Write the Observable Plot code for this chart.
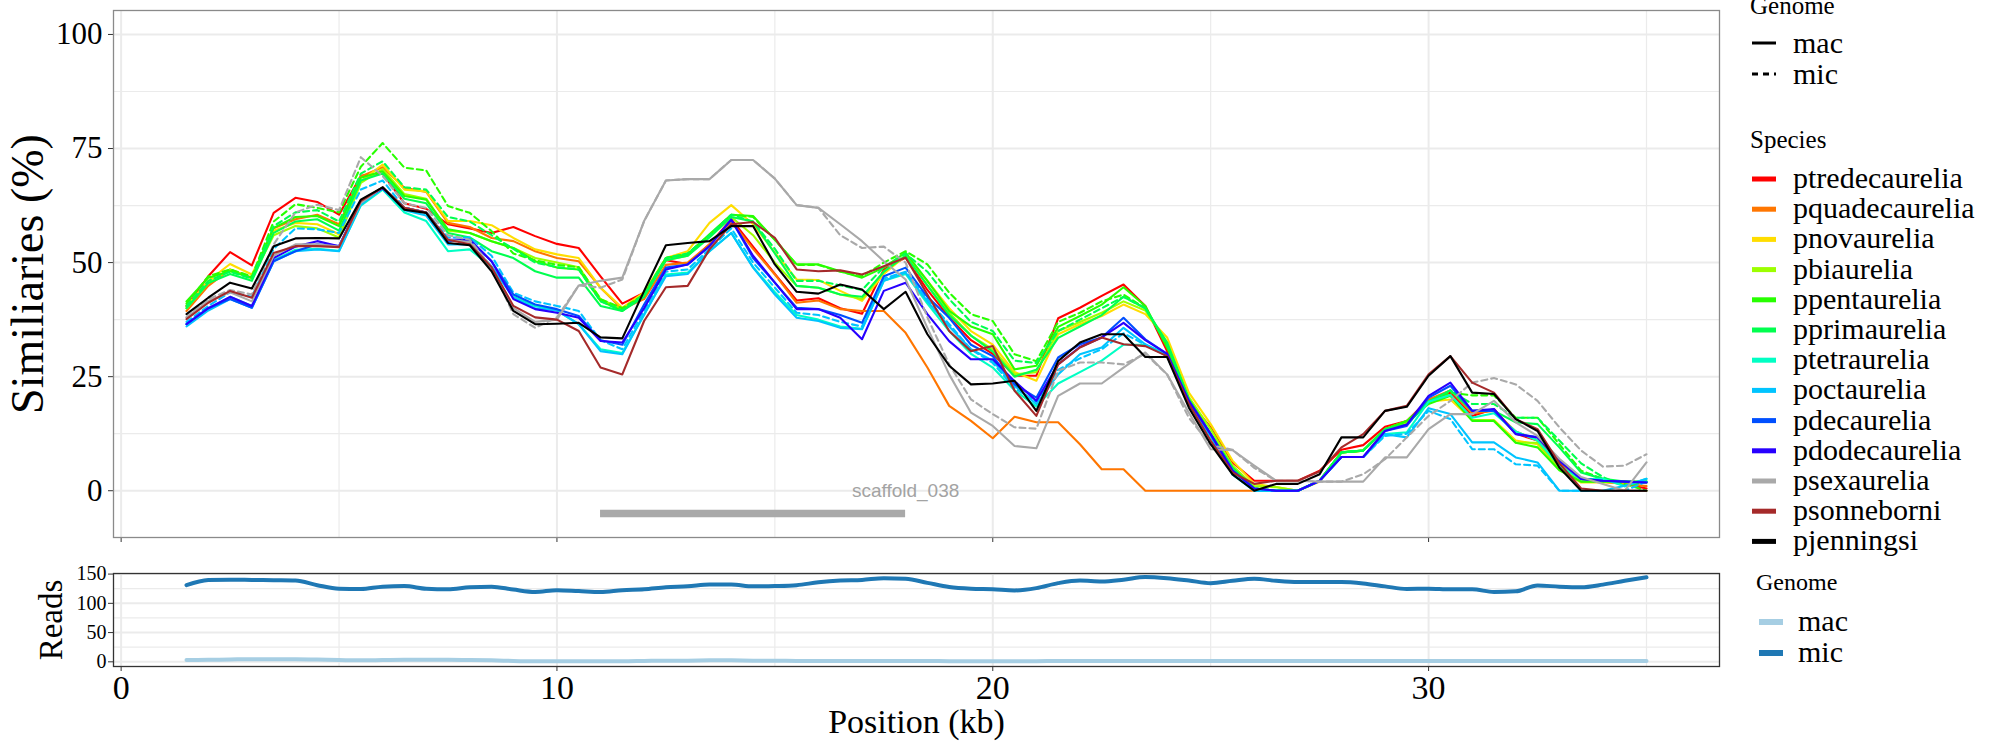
<!DOCTYPE html>
<html>
<head>
<meta charset="utf-8">
<script src="https://cdn.jsdelivr.net/npm/d3@7"></script>
<script src="https://cdn.jsdelivr.net/npm/@observablehq/plot@0.6"></script>
<style>
  html, body { margin: 0; padding: 0; background: #ffffff; }
  #wrap { position: relative; width: 2000px; height: 750px; overflow: hidden; font-family: "Liberation Serif", "DejaVu Serif", serif; }
  #main, #reads, #legend { position: absolute; left: 0; }
  #main { top: 0; }
  #reads { top: 560px; }
  #legend { top: 0; }
</style>
</head>
<body>
<div id="wrap">
  <div id="main"></div>
  <div id="reads"></div>
  <svg id="legend" width="2000" height="750"></svg>
</div>
<script>
// ---------- DATA ----------
const positions = [1.5,2,2.5,3,3.5,4,4.5,5,5.5,6,
  6.5,7,7.5,8,8.5,9,9.5,10,10.5,11,
  11.5,12,12.5,13,13.5,14,14.5,15,15.5,16,
  16.5,17,17.5,18,18.5,19,19.5,20,20.5,21,
  21.5,22,22.5,23,23.5,24,24.5,25,25.5,26,
  26.5,27,27.5,28,28.5,29,29.5,30,30.5,31,
  31.5,32,32.5,33,33.5,34,34.5,35];

const species = ["ptredecaurelia","pquadecaurelia","pnovaurelia","pbiaurelia","ppentaurelia","pprimaurelia","ptetraurelia","poctaurelia","pdecaurelia","pdodecaurelia","psexaurelia","psonneborni","pjenningsi"];
const speciesColors = ["#FF0000","#FF7600","#FFDD00","#9DFF00","#27FF00","#00FF4F","#00FFC4","#00C4FF","#004FFF","#2700FF","#A9A9A9","#A52A2A","#000000"];
const genomes = ["mac","mic"];
const readsColors = ["#A6CEE3","#1F78B4"];

const ptredecaurelia_mac = [40.5,47,52.3,49.4,60.9,64.2,63.3,60.5,69,69.5,
 63,61.8,58.4,57.5,56.5,57.8,55.8,54.1,53.2,47,
 41,43.4,50.5,49.7,54,59.5,53.5,47.5,41.7,42.2,
 40,38.8,48.5,51.1,44,38,33,30,25.2,25.2,
 37.8,40.1,42.7,45.2,40.5,30.6,19.7,13.9,6.2,2.2,
 2.2,2.2,4.4,9,10,14,15.3,20,21.5,16.4,
 17.9,12.5,11,6,2.5,2,1.5,0.5];
const pquadecaurelia_mac = [39.4,44.9,48.5,46.7,57.5,59.5,60.5,58.4,68.9,70.9,
 66.4,65.5,58.7,57.8,55.4,54.7,52.5,51,50.3,44.5,
 39.8,42,49.5,50,54,59,53,47.4,41.2,41.7,
 39.8,39.4,39.4,34.6,27,18.6,15.3,11.5,16.2,15,
 15,10.2,4.7,4.7,0,0,0,0,0,0,
 0,0,2,8.4,8.8,13.5,15,20,22,17,
 17.5,13,11,6,2.5,2,1.5,1];
const pnovaurelia_mac = [40.5,46,49.7,47.4,57,58.7,58.4,56.2,67.8,71.5,
 66,65.6,59.1,59.1,58.2,55.4,52.9,51.8,51,44.5,
 40.1,43.5,51,52.5,58.7,62.6,58.4,52.2,46.3,46.2,
 43.8,41.6,47.5,51.5,46,40,35,32,26,24.1,
 34.3,36.5,38.3,40.8,38.7,33.6,21.5,14.6,6.6,1.5,
 0.8,0,2.2,8.4,8.8,13.5,15.3,19.5,20,15.5,
 15.5,11,10.2,4.7,1.8,1.8,1.8,1.8];
const pbiaurelia_mac = [40,45.5,48.5,46.5,56,58,57.5,55.5,67.5,70.5,
 65,64,57,56.5,54.7,53.2,51,50,49,42,
 39.8,43,50.5,51.5,56,60,56,50,44.9,44.5,
 43,42,48,51.5,45,39,34,31,25.5,26,
 35,37,39,41.5,39.5,32.5,20.5,13.5,5.5,1,
 0.8,0,2.2,8.4,8.8,13.5,15,19.5,21,15.5,
 15.3,10.5,10.5,5,2,2,2,2];
const ppentaurelia_mac = [41.5,46.7,48.1,46.7,57.6,60,60.2,58,68.6,70,
 64.6,63.8,57.3,56.5,54.7,53.2,50.3,48.9,48.5,41.6,
 39.4,43,51,51.8,56.2,60.5,60.2,55,49.6,49.6,
 48.1,46.7,48.9,52.2,46,39.4,36,34.3,26.6,27.4,
 35.9,38.3,40.8,44.6,40.5,31.4,20,12.4,5,0.5,
 0,0,2.2,8.4,8.8,13.5,15.3,19,20.8,15.3,
 15.3,10.5,9.5,4.5,2,2,2,1.8];
const pprimaurelia_mac = [40,45.5,47.5,46,56.5,59,59.5,57,68,69.5,
 64,63,56.5,55.5,52.5,51,48.1,46.7,46.7,40.5,
 39.4,42.5,50.5,51.5,55.5,60,59,52,44.9,44.5,
 43,42.5,48,51.5,45,38.5,34,30.5,25,26.5,
 33.5,36,38.5,42.5,40,32.5,20,12.4,5,0.5,
 0,0,2.2,8.4,8.8,13.5,14.5,19.5,22,17.5,
 17.5,15,14.6,9.5,4,2.6,2,2];
const ptetraurelia_mac = [36.5,39.8,42.5,40.5,50.5,52.8,53,52.6,62.5,66,
 61,59.1,52.5,52.9,49,42.5,40.5,39.5,36.5,31,
 30.2,38.5,47.4,47.8,52.5,56.5,49,43.5,38.5,37.5,
 36,35.5,46,47.5,41,35,30,27,22,18.5,
 23.5,26,28.5,32,32,30,19,12,3.6,0,
 0,0,2.2,7.4,7.4,12.4,12.8,19.5,21,16,
 17,13,11,5.5,2.5,2.6,1,2.6];
const poctaurelia_mac = [36,39.5,42,40.1,50.3,52.5,52.9,52.5,62.7,66.3,
 61.5,60.3,54,54,49.2,42.3,40,39.5,36.5,30.6,
 29.9,38.7,47,47.5,52.5,56.5,48.9,43,37.9,37.2,
 35.7,35.4,46,47.8,41.5,36,31,28.5,23,19,
 25.5,29.9,31.4,35.7,32.1,29.5,19,12,3.6,0,
 0,0,2.2,7.4,7.4,12.4,11.7,18.1,16.8,10.6,
 10.6,7.3,6.2,0,0,0,1.1,2.6];
const pdecaurelia_mac = [36.5,40,42,40.1,50.3,52.5,54,53.6,63.5,66.3,
 62,61,54.7,55,50.3,43,40.8,39.8,38.3,33,
 32,40.8,48.9,49.6,53.6,59.4,51,45.6,40.1,39.8,
 38.5,36.8,47,48.9,42.5,37.9,32,29.5,23.3,20.4,
 29.2,32.1,33.6,37.9,33.2,30,19.7,12.4,4.4,0.5,
 0,0,2.2,7.4,7.4,13.1,14.2,20.4,23,17.5,
 17.5,12.5,11.7,6.6,2.6,2.2,2,1.8];
const pdodecaurelia_mac = [36.5,40,42.5,40.5,51,53.5,54.7,53.6,63.5,66.3,
 62,61,55,55,50.3,42,39.8,39,37.9,32.8,
 32.5,40,48.5,49.6,53.6,59.4,51.5,45.6,39.8,39.8,
 37.9,33.2,43.8,45.6,38.7,32.8,28.8,28.8,24,19.7,
 27.7,31.5,33.6,36.8,33,30,19.7,12.4,4.4,0.5,
 0,0,2.2,7.4,7.4,13.1,14.5,20.8,23.7,17.5,
 17.9,12.4,11.7,6.6,2.6,2.2,2,1.8];
const psexaurelia_mac = [38,41.6,43.5,41.5,51.5,54,54,53.5,63.1,66.5,
 62,61,55,54.5,49,40,37,37.5,45,46,
 46.7,59.1,68,68.3,68.3,72.5,72.5,68.4,62.6,62,
 58.4,54.7,50.3,46.3,35.7,25.5,17.1,14.2,9.8,9.3,
 20.8,23.5,23.5,27,30.3,25.5,17.1,9.1,8.9,5.5,
 2.2,2.2,2,2,2,7.3,7.3,13.5,16.8,16.8,
 19.7,15,12,7,3,1.5,0,6.2];
const psonneborni_mac = [37.6,41.2,43.8,42.3,52.1,53.6,53.6,53.4,63.5,66.5,
 62,61,55,54,49,40.5,38,37.5,35,27,
 25.5,37.2,44.6,44.9,52.9,58.4,58.9,55.4,48.5,48.1,
 48.3,47.4,49.2,51.1,43,35,30.6,31.7,21.9,16.4,
 27.7,31.4,33.6,32.1,31.7,29.5,19,11,4,1.5,
 2.2,2.2,4.2,9.5,12.4,17.5,18.6,25.5,29.5,23.7,
 21.5,15.7,13.5,6,0.5,0,0,0];
const pjenningsi_mac = [38.7,42.3,45.6,44.3,53.6,55.3,55.4,55.3,63.8,66.5,
 61.6,60.9,54.3,53.8,48.1,39.4,36.5,36.6,36.8,33.6,
 33.4,43.8,53.8,54.3,54.7,58,58,49.6,43.6,43.2,
 45.2,44.1,39.8,43.6,34.3,27.4,23.3,23.5,24.1,17.5,
 28.4,32.5,34.3,34.3,29.3,29.3,18.2,10.2,3.6,0,
 1.5,1.5,3.6,11.7,11.7,17.5,18.4,25.2,29.5,21.5,
 21.2,15.7,13.1,5.1,0,0,0,0];

const ppentaurelia_mic = [41,47,48.5,47,59,62.8,62,61,71,76.2,
 70.8,70.2,62.4,60.9,56.9,52,50.5,49.5,49,42,
 40,43,51,52,56,60.5,60,55,49.5,49.5,
 48,47,50,52.5,49.6,43.4,38.7,37.2,29.9,28.4,
 37,39,41.5,43,40,32,20,12.5,5,0.5,
 0,0,2.2,8.4,8.8,13.5,15.3,19.5,21.5,20.9,
 20.9,16,16,10.2,4.4,2.6,1.5,0];
const pprimaurelia_mic = [40.5,46,48,46.5,58,61,61.5,59,69.5,72.2,
 66.5,66,60,59,56,53,50,49,48.5,41.5,
 39.5,43,51,52,56,60.5,59,53,46,46,
 45,44,49,52,48,42,37,35,28.5,28,
 35,37.5,40,42.5,40,32,20,12.4,5,0.5,
 0,0,2.2,8.4,8.8,13.5,14.5,19.5,22,19,
 19,16,16,11,6,3,1,2];
const poctaurelia_mic = [37,40.5,43.5,42.5,53,57.5,57.3,56.5,66,68,
 62,61,55.5,55.5,51.5,43.4,41.5,40.5,39.4,33,
 31,39.5,48,48.5,53,57.5,50,44.5,39,38.5,
 37,36,46.5,48,42,36.5,31,28,22.5,19.5,
 26.5,29,31,34.5,32,29.5,19,12,3.6,0,
 0,0,2.2,7.4,7.4,12,12.5,17.5,15.7,9.1,
 9.1,5.8,5.5,0,0,0,0,2];
const psexaurelia_mic = [38,42,44,43,54,61,62.7,61.5,73.1,69,
 63,62,56,55,49,38.7,35.7,38,45,44.5,
 46.3,59.1,68,68.3,68.3,72.5,72.5,68.4,62.6,62,
 56,53.2,53.5,50,38,27.7,20,16.8,13.9,13.6,
 26.3,28.1,28.1,27.7,30,25.5,16,10,9,5,
 2.2,2.2,2,2,3.6,6.9,11.7,16.4,19.7,23.7,
 24.7,23.3,19.7,13.9,8.8,5.3,5.5,8];

const reads_mac = [3,3.5,4,4.5,4.5,4.5,4,3,2.5,3,
 3.5,3.5,3.5,3,2.5,1.5,1,1,1,1,
 1,1.5,2,2,2.5,2.5,2,2,1.5,1.5,
 1.5,1.5,1.5,1.5,1.5,1,1,1,1,1,
 1.5,1.5,1.5,1.5,1.5,1.5,1.5,1.5,1.5,1.5,
 1.5,1.5,1.5,1.5,1.5,1.5,1.5,1.5,1.5,1.5,
 1.5,1.5,1.5,1.5,1.5,1.5,1.5,1.5];
const reads_mic = [131,140,140.5,140,139.5,139,131,125,124.5,128.5,
 129.5,125,124,127.5,128.5,123.5,119.5,122.5,121,119.5,
 122.5,124,127.5,129,132,132,129,129.5,131,136,
 139,140,143,142,135,128,125,124,122,126,
 134.5,139,137.5,140.5,145,143,139,134.5,138.5,142,
 138.5,136.5,136.5,136.5,134,129,124.5,125,124,124,
 119.5,120.5,130.5,128.5,127.5,132,138.5,144.5];

const scaffold = [{start: 11, end: 18, y: -5, label: "scaffold_038", labelX: 18, labelY: 0}];
const yTicks = [0, 25, 50, 75, 100];
const yMinor = [12.5, 37.5, 62.5, 87.5];
const xTicks = [0, 10, 20, 30];
const xMinor = [5, 15, 25, 35];
const readsTicks = [0, 50, 100, 150];
const readsMinor = [25, 75, 125];

// ---------- BUILD ----------
const simSeries = [
  ["ptredecaurelia","mac",ptredecaurelia_mac],
  ["pquadecaurelia","mac",pquadecaurelia_mac],
  ["pnovaurelia","mac",pnovaurelia_mac],
  ["pbiaurelia","mac",pbiaurelia_mac],
  ["ppentaurelia","mac",ppentaurelia_mac],
  ["ppentaurelia","mic",ppentaurelia_mic],
  ["pprimaurelia","mac",pprimaurelia_mac],
  ["pprimaurelia","mic",pprimaurelia_mic],
  ["ptetraurelia","mac",ptetraurelia_mac],
  ["poctaurelia","mac",poctaurelia_mac],
  ["poctaurelia","mic",poctaurelia_mic],
  ["pdecaurelia","mac",pdecaurelia_mac],
  ["pdodecaurelia","mac",pdodecaurelia_mac],
  ["psexaurelia","mac",psexaurelia_mac],
  ["psexaurelia","mic",psexaurelia_mic],
  ["psonneborni","mac",psonneborni_mac],
  ["pjenningsi","mac",pjenningsi_mac]
];
const colorOf = s => speciesColors[species.indexOf(s)];
const FONT = "Liberation Serif";
const GRID = "#EBEBEB";
const xDomain = [-0.175, 36.675];

const lineMarks = simSeries.map(([sp, g, vals]) =>
  Plot.line(vals.map((v, i) => ({x: positions[i], y: v, species: sp, genome: g})), {
    x: "x", y: "y",
    stroke: colorOf(sp),
    strokeWidth: 2.1,
    strokeDasharray: g === "mic" ? "6,4" : null,
    strokeLinejoin: "round"
  })
);

const main = Plot.plot({
  width: 2000, height: 560,
  marginLeft: 113, marginRight: 281, marginTop: 10, marginBottom: 23,
  x: {domain: xDomain, axis: null},
  y: {domain: [-10.25, 105.25], axis: null},
  style: {background: "transparent", overflow: "visible", fontFamily: FONT, color: "black"},
  marks: [
    Plot.gridY(yMinor, {stroke: GRID, strokeOpacity: 1, strokeWidth: 1.2}),
    Plot.gridX(xMinor, {stroke: GRID, strokeOpacity: 1, strokeWidth: 1.2}),
    Plot.gridY(yTicks, {stroke: GRID, strokeOpacity: 1, strokeWidth: 2}),
    Plot.gridX(xTicks, {stroke: GRID, strokeOpacity: 1, strokeWidth: 2}),
    Plot.axisY(yTicks, {tickSize: 5, tickPadding: 6, fontSize: 31, fontFamily: FONT, stroke: "#333", label: null}),
    Plot.axisX(xTicks, {tickSize: 5, tickFormat: () => "", stroke: "#333", label: null}),
    Plot.text(["Similiaries (%)"], {frameAnchor: "left", dx: -85, rotate: -90, fontSize: 46, fontFamily: FONT, textAnchor: "middle", lineAnchor: "middle", fill: "black"}),
    Plot.ruleY(scaffold, {y: "y", x1: "start", x2: "end", stroke: "#A9A9A9", strokeWidth: 7.5}),
    Plot.text(scaffold, {x: "labelX", y: "labelY", text: "label", fontSize: 19, fontFamily: "Liberation Sans", fill: "#A3A3A3", textAnchor: "middle", lineAnchor: "middle"}),
    ...lineMarks,
    Plot.frame({stroke: "#8A8A8A", strokeWidth: 1.3})
  ]
});
document.getElementById("main").appendChild(main);

const readsRows = [];
genomes.forEach(g => {
  const vals = g === "mac" ? reads_mac : reads_mic;
  vals.forEach((v, i) => readsRows.push({x: positions[i], y: v, genome: g}));
});

const reads = Plot.plot({
  width: 2000, height: 190,
  marginLeft: 113, marginRight: 281, marginTop: 13, marginBottom: 84,
  x: {domain: xDomain, axis: null},
  y: {domain: [-8, 151], axis: null},
  color: {domain: genomes, range: readsColors},
  style: {background: "transparent", overflow: "visible", fontFamily: FONT, color: "black"},
  marks: [
    Plot.gridY(readsMinor, {stroke: GRID, strokeOpacity: 1, strokeWidth: 1.2}),
    Plot.gridX(xMinor, {stroke: GRID, strokeOpacity: 1, strokeWidth: 1.2}),
    Plot.gridY(readsTicks, {stroke: GRID, strokeOpacity: 1, strokeWidth: 2}),
    Plot.gridX(xTicks, {stroke: GRID, strokeOpacity: 1, strokeWidth: 2}),
    Plot.axisY(readsTicks, {tickSize: 5, tickPadding: 2, fontSize: 20, fontFamily: FONT, stroke: "#333", label: null}),
    Plot.axisX(xTicks, {tickSize: 5, tickPadding: 3, fontSize: 34, fontFamily: FONT, stroke: "#333", label: null}),
    Plot.text(["Reads"], {frameAnchor: "left", dx: -62, rotate: -90, fontSize: 33, fontFamily: FONT, textAnchor: "middle", lineAnchor: "middle", fill: "black"}),
    Plot.text(["Position (kb)"], {frameAnchor: "bottom", dy: 56, fontSize: 34, fontFamily: FONT, textAnchor: "middle", lineAnchor: "middle", fill: "black"}),
    Plot.line(readsRows, {x: "x", y: "y", z: "genome", stroke: "genome", strokeWidth: 4, strokeLinejoin: "round", curve: "monotone-x"}),
    Plot.frame({stroke: "#333", strokeWidth: 1.3})
  ]
});
document.getElementById("reads").appendChild(reads);

// ---------- LEGENDS ----------
const lg = d3.select("#legend").style("font-family", FONT);
// Genome (linetype) legend
lg.append("text").attr("x", 1750).attr("y", 14).attr("font-size", 25).text("Genome");
genomes.forEach((g, i) => {
  const y = 43 + i * 31;
  lg.append("line").attr("x1", 1752).attr("x2", 1776).attr("y1", y).attr("y2", y)
    .attr("stroke", "black").attr("stroke-width", 3)
    .attr("stroke-dasharray", g === "mic" ? "6,5" : null);
  lg.append("text").attr("x", 1793).attr("y", y + 10).attr("font-size", 30).text(g);
});
// Species legend
lg.append("text").attr("x", 1750).attr("y", 148).attr("font-size", 25).text("Species");
species.forEach((s, i) => {
  const y = 179 + i * 30.2;
  lg.append("rect").attr("x", 1752).attr("y", y - 2.5).attr("width", 24).attr("height", 5).attr("fill", speciesColors[i]);
  lg.append("text").attr("x", 1793).attr("y", y + 9).attr("font-size", 30).text(s);
});
// Reads genome legend
lg.append("text").attr("x", 1756).attr("y", 590).attr("font-size", 24).text("Genome");
genomes.forEach((g, i) => {
  const y = 622 + i * 31;
  lg.append("rect").attr("x", 1759).attr("y", y - 3).attr("width", 24).attr("height", 6).attr("fill", readsColors[i]);
  lg.append("text").attr("x", 1798).attr("y", y + 9).attr("font-size", 30).text(g);
});
</script>
</body>
</html>
